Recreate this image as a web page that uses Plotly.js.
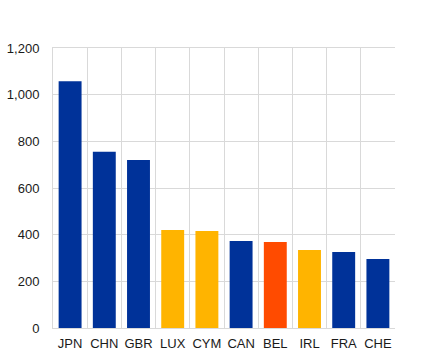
<!DOCTYPE html>
<html>
<head>
<meta charset="utf-8">
<script src="https://cdn.plot.ly/plotly-3.0.1.min.js"></script>
<style>html,body{margin:0;padding:0;background:#fff}#chart{width:437px;height:356px}</style>
</head>
<body>
<div id="chart"></div>
<script>
const categories = ["JPN","CHN","GBR","LUX","CYM","CAN","BEL","IRL","FRA","CHE"];
const values = [1058, 755, 720, 420, 416, 373, 369, 334, 326, 296];
const barColors = ["#003299","#003299","#003299","#FFB400","#FFB400","#003299","#FF4B00","#FFB400","#003299","#003299"];
const yTicks = [0, 200, 400, 600, 800, 1000, 1200];

Plotly.newPlot("chart", [{
  type: "bar",
  x: categories,
  y: values,
  marker: {color: barColors},
  hoverinfo: "none"
}], {
  width: 437, height: 356,
  margin: {l: 53, r: 42, t: 48, b: 28},
  paper_bgcolor: "#fff", plot_bgcolor: "#fff",
  bargap: 0.33,
  showlegend: false,
  font: {family: "Liberation Sans, Arial, sans-serif", size: 13, color: "#1a1a1a"},
  xaxis: {
    type: "category",
    tickson: "boundaries",
    tickangle: 0,
    automargin: false,
    showgrid: true, gridcolor: "#d9d9d9", gridwidth: 1,
    showline: true, linecolor: "#d9d9d9", mirror: true,
    ticks: "", ticklabelstandoff: 3,
    tickfont: {size: 13, color: "#1a1a1a"}
  },
  yaxis: {
    range: [0, 1200],
    tickvals: yTicks,
    tickformat: ",d",
    automargin: false,
    showgrid: true, gridcolor: "#d9d9d9", gridwidth: 1,
    zeroline: false,
    showline: true, linecolor: "#d9d9d9",
    ticks: "", ticklabelstandoff: 10,
    tickfont: {size: 13, color: "#1a1a1a"}
  }
}, {staticPlot: true});
</script>
</body>
</html>
